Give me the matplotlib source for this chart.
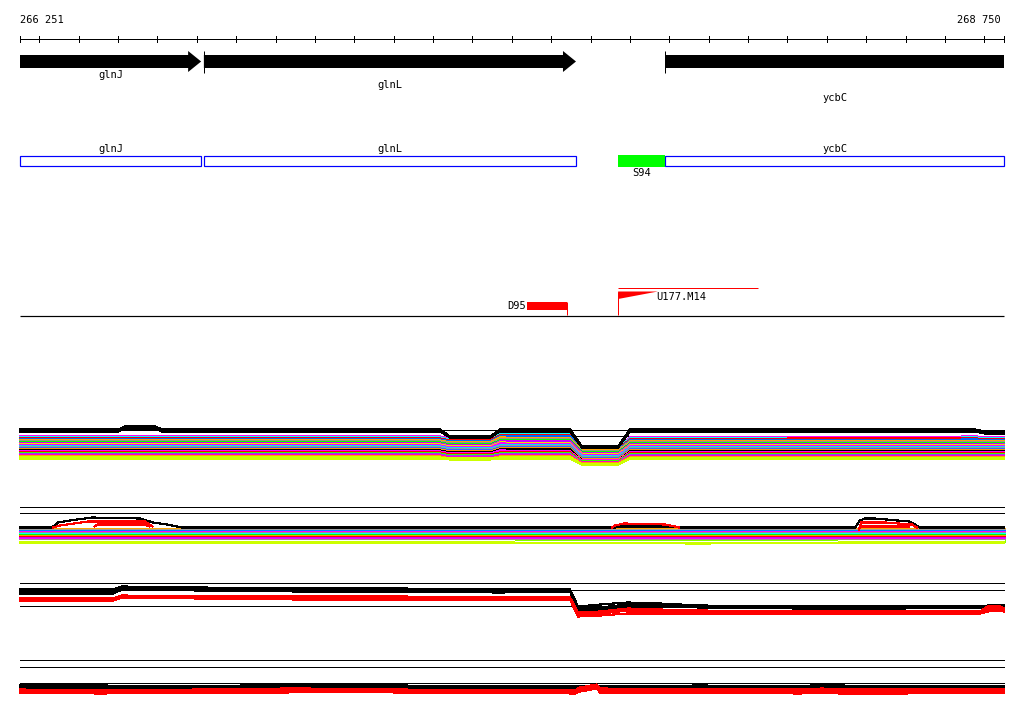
import numpy as np
import matplotlib
matplotlib.use('Agg')
import matplotlib.pyplot as plt
from matplotlib.patches import Polygon, Rectangle

# ---------------- data ----------------
VIEW_START = 266251
VIEW_END = 268750
TICK_STEP = 100

GENE_NAMES = ['glnJ', 'glnL', 'ycbC']
GENE_START = [266100, 266718, 267889]
GENE_END = [266711, 267663, 269000]

SITE_NAME = 'S94'
SITE_START, SITE_END = 267770, 267889

DEL_NAME = 'D95'
DEL_START, DEL_END = 267539, 267640

INS_NAME = 'U177.M14'
INS_POS, INS_FLAG_END, INS_SPAN_END = 267770, 267871, 268125

# track 1 (multi-colour coverage lines)
T1_X = [266251, 266835, 267318, 267343, 267445, 267470, 267648, 267678,
        267770, 267800, 268232, 268676, 268750]
T1_Y01 = [33, 33, 33, 31, 31, 37, 36, 23, 23, 32, 32, 33, 32]
T1_Y02 = [32, 32, 32, 30, 30, 35, 35, 22, 22, 31, 31, 32, 31]
T1_Y03 = [31, 31, 31, 29, 29, 34, 34, 21, 21, 30, 31, 31, 30]
T1_Y04 = [30, 30, 30, 28, 28, 33, 33, 20, 20, 29, 29, 30, 29]
T1_Y05 = [29, 29, 29, 27, 27, 32, 31, 19, 19, 28, 28, 28, 28]
T1_Y06 = [28, 28, 28, 26, 26, 30, 30, 18, 18, 27, 27, 27, 27]
T1_Y07 = [27, 27, 27, 25, 25, 29, 29, 17, 17, 26, 26, 26, 26]
T1_Y08 = [26, 26, 26, 24, 24, 28, 28, 16, 16, 25, 25, 25, 25]
T1_Y09 = [25, 25, 25, 23, 23, 27, 26, 15, 15, 24, 24, 24, 24]
T1_Y10 = [24, 24, 24, 22, 22, 26, 25, 14, 14, 23, 23, 23, 23]
T1_Y11 = [23, 23, 23, 21, 21, 24, 24, 13, 13, 22, 22, 22, 22]
T1_Y12 = [22, 22, 22, 20, 20, 23, 23, 12, 12, 21, 21, 21, 21]
T1_Y13 = [21, 21, 21, 19, 19, 22, 22, 11, 11, 20, 20, 20, 20]
T1_Y14 = [20, 20, 20, 18, 18, 21, 21, 10, 10, 19, 19, 19, 19]
T1_Y15 = [19, 19, 19, 17, 17, 20, 20, 9, 9, 18, 18, 18, 18]
T1_Y16 = [18, 18, 18, 16, 16, 19, 18, 9, 9, 17, 17, 17, 17]
T1_Y17 = [17, 17, 17, 15, 15, 17, 17, 8, 8, 16, 16, 16, 16]
T1_Y18 = [16, 16, 16, 14, 14, 16, 16, 8, 8, 15, 15, 15, 15]
T1_Y19 = [15, 15, 15, 13, 13, 15, 15, 7, 7, 14, 14, 14, 14]
T1_Y20 = [14, 14, 14, 12, 12, 14, 14, 7, 7, 13, 13, 13, 13]
T1_Y21 = [13, 13, 13, 11, 11, 13, 13, 6, 6, 12, 12, 12, 12]
T1_Y22 = [12, 12, 12, 11, 11, 12, 12, 5, 5, 11, 11, 11, 11]
T1_Y23 = [11, 11, 11, 10, 10, 11, 11, 5, 5, 11, 11, 11, 11]
T1_COLORS = ['#ff00ff', '#00ffff', '#ff0000', '#0066ff', '#ffa500', '#a08c8c',
             '#00ff00', '#cc00ff', '#e6e600', '#ff00ff', '#00e0ff', '#999999',
             '#3366ff', '#ff9900', '#000000', '#ff00ff', '#ff0000', '#33ff00',
             '#9933ff', '#ff00cc', '#ffa500', '#ccff00', '#ccff00']

T1B_X = [266251, 266424, 266500, 266518, 266594, 266612, 266835, 267318,
         267343, 267445, 267470, 267648, 267678, 267770, 267800, 268232,
         268676, 268702, 268750]
T1B_Y1 = [40, 40, 40, 43, 43, 40, 40, 40, 33, 33, 40, 40, 23, 23, 40, 40, 40, 38, 38]
T1B_Y2 = [38, 38, 38, 41, 41, 38, 38, 38, 32, 32, 38, 38, 22, 22, 38, 38, 38, 36, 36]
T1_FRAME = [40, 34]

# track 2
T2_X = [266251, 266581, 266962, 267470, 267978, 268359, 268750]
T2_Y01 = [21, 21, 21, 21, 21, 21, 21]
T2_Y02 = [20, 20, 20, 20, 20, 20, 20]
T2_Y03 = [19, 19, 19, 19, 19, 19, 19]
T2_Y04 = [18, 18, 18, 18, 18, 18, 18]
T2_Y05 = [17, 17, 17, 17, 17, 17, 17]
T2_Y06 = [16, 16, 16, 16, 16, 16, 16]
T2_Y07 = [15, 15, 15, 15, 15, 15, 15]
T2_Y08 = [14, 14, 14, 14, 14, 14, 14]
T2_Y09 = [13, 13, 13, 13, 13, 13, 13]
T2_Y10 = [12, 12, 12, 12, 12, 12, 12]
T2_Y11 = [11, 11, 11, 11, 11, 11, 11]
T2_Y12 = [10, 10, 10, 10, 10, 10, 10]
T2_Y13 = [9, 9, 9, 9, 9, 9, 9]
T2_Y14 = [8, 8, 8, 8, 7, 8, 8]
T2_Y15 = [7, 7, 7, 7, 6, 7, 7]
T2_COLORS = ['#ffa500', '#a0a0a0', '#0080ff', '#ff00ff', '#a08c8c', '#00ffff',
             '#00ff00', '#ff9900', '#ff0000', '#cc00ff', '#ff00ff', '#a08c8c',
             '#80ff00', '#ffffff', '#ccff00']
T2_BLK_X = [266251, 266332, 266348, 266378, 266434, 266556, 266589, 266624,
            266662, 267762, 267770, 267914, 267925, 268372, 268384, 268397,
            268422, 268509, 268524, 268537, 268750]
T2_BLK_Y = [22, 22, 27, 29, 32, 31, 27, 25, 22, 22, 23, 23, 22, 22, 29, 31,
            31, 28, 25, 22, 22]
T2_RED_X = [266335, 266353, 266424, 266493, 266569, 266587, np.nan,
            266440, 266449, 266568, 266580, np.nan,
            267754, 267762, 267785, 267889, 267914, 267925, np.nan,
            268382, 268387, 268448, 268516, 268529, np.nan,
            268384, 268509]
T2_RED_Y = [22, 24, 28, 28, 28, 23, np.nan,
            23, 25, 25, 23, np.nan,
            22, 24, 26, 25, 23, 22, np.nan,
            20, 27, 27, 25, 22, np.nan,
            23, 23]
T2_FRAME = [43, 37, 22]

# track 3
T3_X = [266251, 266487, 266510, 266708, 266962, 267216, 267470, 267648,
        267668, 267724, 267795, 267876, 267978, 268232, 268486, 268689,
        268709, 268740, 268750]
T3_BLACK1 = [35, 35, 38, 37, 36, 36, 35, 35, 18, 20, 22, 21, 19, 18, 18, 18, 19, 19, 19]
T3_BLACK2 = [34, 34, 37, 36, 35, 34, 34, 34, 16, 17, 20, 19, 18, 17, 17, 17, 18, 18, 18]
T3_BLACK3 = [31, 31, 35, 34, 33, 33, 32, 33, 14, 15, 18, 18, 17, 16, 16, 17, 17, 17, 17]
T3_RED1 = [26, 26, 29, 28, 28, 28, 27, 27, 12, 13, 16, 15, 14, 13, 13, 13, 18, 18, 16]
T3_RED2 = [25, 25, 28, 27, 27, 26, 26, 26, 10, 11, 14, 13, 12, 12, 12, 12, 16, 16, 15]
T3_RED3 = [24, 24, 27, 26, 25, 25, 25, 25, 8, 9, 11, 11, 11, 11, 11, 11, 13, 14, 13]
T3_FRAME = [42, 35, 19]

# track 4
T4_X = [266251, 266454, 266708, 266929, 266970, 267216, 267470, 267660,
        267673, 267716, 267724, 267978, 268232, 268288, 268334, 268486, 268750]
T4_BLACK1 = [14, 14, 13, 15, 15, 14, 13, 13, 13, 13, 13, 14, 13, 15, 14, 13, 13]
T4_BLACK2 = [12, 12, 12, 13, 13, 12, 12, 11, 12, 12, 12, 12, 11, 13, 12, 11, 11]
T4_RED1 = [10, 9, 10, 11, 11, 10, 9, 9, 12, 15, 11, 10, 10, 11, 10, 10, 10]
T4_RED2 = [8, 8, 8, 9, 9, 8, 8, 7, 10, 13, 9, 8, 8, 9, 8, 7, 8]
T4_RED3 = [7, 6, 7, 7, 8, 7, 7, 6, 8, 11, 7, 7, 6, 7, 6, 6, 7]
T4_FRAME = [40, 33, 17]

# ---------------- layout ----------------
W, H = 1024, 714
LEFT_PX, RIGHT_PX = 20, 1004
bp_per_px = (VIEW_END - VIEW_START) / (RIGHT_PX - LEFT_PX)
XL = (VIEW_START - LEFT_PX * bp_per_px, VIEW_START + (W - LEFT_PX) * bp_per_px)
FONT = dict(family='DejaVu Sans Mono', fontsize=7.5)
PX = 0.72  # one pixel in points

fig = plt.figure(figsize=(W / 100, H / 100), dpi=100)
ax = fig.add_axes([0, 0, 1, 1])
ax.set_xlim(XL)
ax.set_ylim(H, 0)
ax.axis('off')

# ruler
ax.hlines(38.5, VIEW_START, VIEW_END, color='black', lw=PX, antialiased=False)
ticks = [VIEW_START] + list(range((VIEW_START // TICK_STEP + 1) * TICK_STEP, VIEW_END, TICK_STEP)) + [VIEW_END]
ax.vlines(ticks, 36, 41.5, color='black', lw=PX, antialiased=False)
ax.text(VIEW_START, 20, f'{VIEW_START:,}'.replace(',', ' '), ha='left', va='center', **FONT)
ax.text(VIEW_START + (1001 - LEFT_PX) * bp_per_px, 20, f'{VIEW_END:,}'.replace(',', ' '),
        ha='right', va='center', **FONT)

# genes (arrows)
head = 13 * bp_per_px
label_rows = [75, 85, 98]
for name, s, e, ly in zip(GENE_NAMES, GENE_START, GENE_END, label_rows):
    vs, ve = max(s, VIEW_START), min(e, VIEW_END)
    if e <= VIEW_END:
        pts = [(vs, 55), (e - head, 55), (e - head, 51), (e, 61.5), (e - head, 72),
               (e - head, 68), (vs, 68)]
    else:
        pts = [(vs, 55), (ve, 55), (ve, 68), (vs, 68)]
    ax.add_patch(Polygon(pts, closed=True, facecolor='black', edgecolor='none'))
    if s >= VIEW_START:
        ax.vlines(s, 51, 73, color='black', lw=PX)
    mid = (vs + ve) / 2
    ax.text(mid, ly, name, ha='center', va='center', **FONT)
    # blue boxes
    ax.add_patch(Rectangle((vs, 155.5), ve - vs, 10.5, facecolor='none',
                           edgecolor='#0000ff', lw=PX * 1.2))
    ax.text(mid, 149.5, name, ha='center', va='center', **FONT)

# site
ax.add_patch(Rectangle((SITE_START, 155), SITE_END - SITE_START, 11.5,
                       facecolor='#00ff00', edgecolor='none'))
ax.text((SITE_START + SITE_END) / 2, 172.5, SITE_NAME, ha='center', va='center', **FONT)

# deletion / insertion track
ax.hlines(315.5, VIEW_START, VIEW_END, color='black', lw=PX * 1.2)
ax.add_patch(Rectangle((DEL_START, 302), DEL_END - DEL_START, 8,
                       facecolor='#ff0000', edgecolor='none'))
ax.vlines(DEL_END, 302, 315, color='#ff0000', lw=PX)
ax.text(DEL_START - 1 * bp_per_px, 306, DEL_NAME, ha='right', va='center', **FONT)
ax.vlines(INS_POS, 291.5, 315, color='#ff0000', lw=PX)
ax.add_patch(Polygon([(INS_POS, 291.5), (INS_FLAG_END, 291.5), (INS_POS, 299)],
                     closed=True, facecolor='#ff0000', edgecolor='none'))
ax.hlines(287.5, INS_POS, INS_SPAN_END, color='#ff0000', lw=PX)
ax.text(INS_FLAG_END - 2 * bp_per_px, 297, INS_NAME, ha='left', va='center', **FONT)


def track_axes(ybot, h=50):
    a = fig.add_axes([0, 1 - ybot / H, 1, h / H])
    a.set_xlim(XL)
    a.set_ylim(-0.5, h - 0.5)
    a.axis('off')
    a.patch.set_alpha(0)
    return a


def frame(a, levels):
    a.hlines(levels, VIEW_START, VIEW_END, color='black', lw=PX, antialiased=False)


def line(a, x, y, c):
    a.plot(x, y, color=c, lw=PX * 1.15, antialiased=False, solid_joinstyle='miter')


# track 1
a1 = track_axes(470)
frame(a1, T1_FRAME)
t1 = [T1_Y01, T1_Y02, T1_Y03, T1_Y04, T1_Y05, T1_Y06, T1_Y07, T1_Y08, T1_Y09,
      T1_Y10, T1_Y11, T1_Y12, T1_Y13, T1_Y14, T1_Y15, T1_Y16, T1_Y17, T1_Y18,
      T1_Y19, T1_Y20, T1_Y21, T1_Y22, T1_Y23]
for y, c in zip(t1, T1_COLORS):
    line(a1, T1_X, y, c)
line(a1, T1B_X, T1B_Y1, 'black')
line(a1, T1B_X, T1B_Y2, 'black')

# track 2
a2 = track_axes(550)
frame(a2, T2_FRAME)
t2 = [T2_Y01, T2_Y02, T2_Y03, T2_Y04, T2_Y05, T2_Y06, T2_Y07, T2_Y08, T2_Y09,
      T2_Y10, T2_Y11, T2_Y12, T2_Y13, T2_Y14, T2_Y15]
for y, c in zip(t2, T2_COLORS):
    line(a2, T2_X, y, c)
line(a2, T2_BLK_X, T2_BLK_Y, 'black')
line(a2, T2_RED_X, T2_RED_Y, '#ff0000')

# track 3
a3 = track_axes(625)
frame(a3, T3_FRAME)
for y in (T3_BLACK1, T3_BLACK2, T3_BLACK3):
    line(a3, T3_X, y, 'black')
for y in (T3_RED1, T3_RED2, T3_RED3):
    line(a3, T3_X, y, '#ff0000')

# track 4
a4 = track_axes(700)
frame(a4, T4_FRAME)
for y in (T4_BLACK1, T4_BLACK2):
    line(a4, T4_X, y, 'black')
for y in (T4_RED1, T4_RED2, T4_RED3):
    line(a4, T4_X, y, '#ff0000')

fig.savefig('out.png', dpi=100, facecolor='white')
